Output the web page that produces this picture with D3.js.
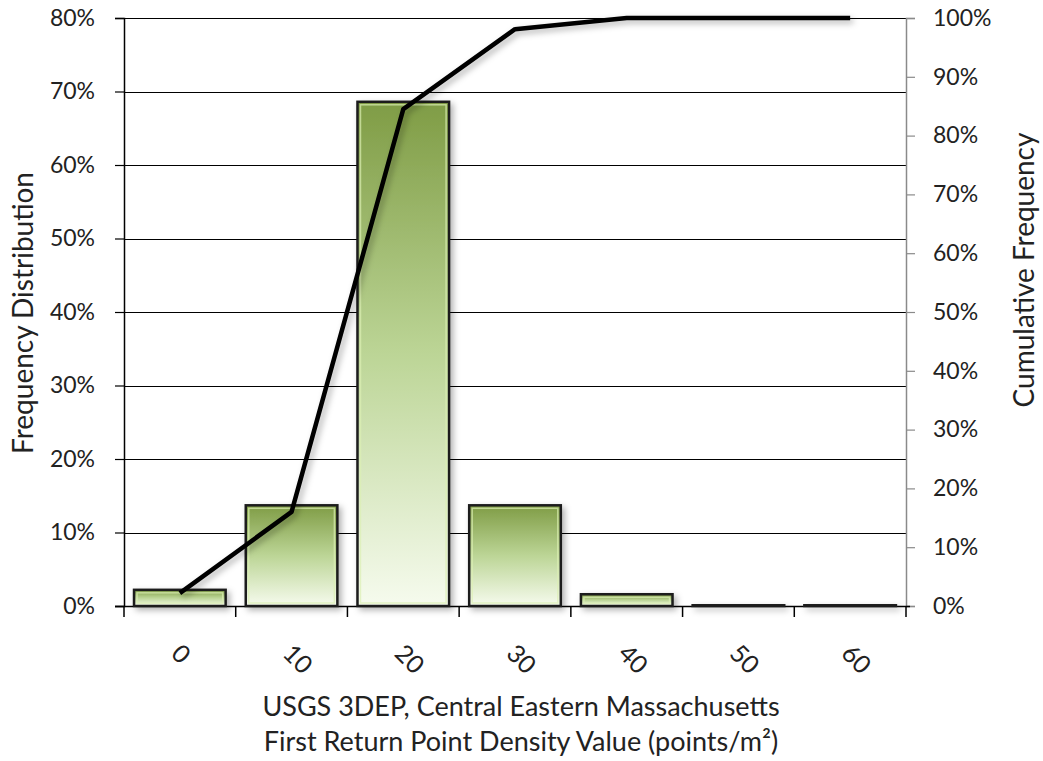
<!DOCTYPE html>
<html><head><meta charset="utf-8">
<script src="https://cdn.jsdelivr.net/npm/d3@7"></script>
<style>body{margin:0;background:#fff}svg{display:block}</style>
</head><body>
<script>
const categories = ["0","10","20","30","40","50","60"];
const frequency = [0.022, 0.137, 0.686, 0.137, 0.016, 0.001, 0.001];
const cumulative = [0.022, 0.160, 0.845, 0.981, 1.0, 1.0, 1.0];
const leftTicks = [0,0.1,0.2,0.3,0.4,0.5,0.6,0.7,0.8];
const rightTicks = [0,0.1,0.2,0.3,0.4,0.5,0.6,0.7,0.8,0.9,1.0];
const xTitle = ["USGS 3DEP, Central Eastern Massachusetts","First Return Point Density Value (points/m²)"];
const yTitleLeft = "Frequency Distribution";
const yTitleRight = "Cumulative Frequency";

const W=1043,H=761, L=124, R=906, T=18, B=606;
const font = "Lato, 'Open Sans', sans-serif";
const svg = d3.select("body").append("svg").attr("width",W).attr("height",H).style("font-family",font);
const defs = svg.append("defs");
const grad = defs.append("linearGradient").attr("id","g").attr("x1",0).attr("y1",0).attr("x2",0).attr("y2",1);
grad.append("stop").attr("offset","0%").attr("stop-color","#7f9c45");
grad.append("stop").attr("offset","50%").attr("stop-color","#bcd596");
grad.append("stop").attr("offset","100%").attr("stop-color","#f6fbee");
const f = defs.append("filter").attr("id","sh").attr("x","-20%").attr("y","-20%").attr("width","150%").attr("height","150%");
f.append("feDropShadow").attr("dx",3).attr("dy",3).attr("stdDeviation",3).attr("flood-color","#000").attr("flood-opacity",0.3);

const x = d3.scaleBand().domain(categories).range([L,R]).paddingInner(0.18).paddingOuter(0.09);
const y = d3.scaleLinear().domain([0,0.8]).range([B,T]);
const y2 = d3.scaleLinear().domain([0,1]).range([B,T]);
const pct = d3.format(".0%");

// gridlines
svg.append("g").selectAll("line").data(leftTicks.filter(d=>d>0)).join("line")
  .attr("x1",L).attr("x2",R).attr("y1",d=>Math.round(y(d))+0.5).attr("y2",d=>Math.round(y(d))+0.5)
  .attr("stroke","#000").attr("stroke-width",1.2);

// left axis
const ga = svg.append("g").attr("transform",`translate(${L},0)`)
  .call(d3.axisLeft(y).tickValues(leftTicks).tickFormat(pct).tickSize(9).tickPadding(20));
ga.select(".domain").attr("stroke","#000").attr("stroke-width",1.5);
ga.selectAll(".tick line").attr("stroke","#000").attr("stroke-width",1.2);
ga.selectAll("text").attr("font-size",23).attr("fill","#222").attr("font-family",font);

// right axis
const gr = svg.append("g").attr("transform",`translate(${R},0)`)
  .call(d3.axisRight(y2).tickValues(rightTicks).tickFormat(pct).tickSize(9).tickPadding(18));
gr.select(".domain").attr("stroke","#8a8a8a").attr("stroke-width",1.5);
gr.selectAll(".tick line").attr("stroke","#8a8a8a").attr("stroke-width",1.2);
gr.selectAll("text").attr("font-size",23).attr("fill","#222").attr("font-family",font);

// bottom axis
const step = x.step();
const bounds = d3.range(categories.length+1).map(i=> L + i*step);
svg.append("line").attr("x1",L-9).attr("x2",R+4).attr("y1",B+0.5).attr("y2",B+0.5).attr("stroke","#000").attr("stroke-width",1.5);
svg.append("g").selectAll("line").data(bounds).join("line")
  .attr("x1",d=>d).attr("x2",d=>d).attr("y1",B).attr("y2",B+11).attr("stroke","#000").attr("stroke-width",1.5);
svg.append("g").selectAll("text").data(categories).join("text")
  .attr("transform",d=>`translate(${x(d)+x.bandwidth()/2 - 3},${648}) rotate(45)`)
  .attr("text-anchor","start").attr("dominant-baseline","central")
  .attr("font-size",25).attr("fill","#222").text(d=>d);

// bars
const bars = svg.append("g").attr("filter","url(#sh)");
bars.selectAll("rect.b").data(categories).join("rect").attr("class","b")
  .attr("x",d=>x(d)).attr("width",x.bandwidth())
  .attr("y",(d,i)=>y(frequency[i])).attr("height",(d,i)=>B-y(frequency[i]))
  .attr("fill","url(#g)").attr("stroke","#1c1c1c").attr("stroke-width",2.5);
bars.selectAll("rect.h").data(categories.filter((d,i)=>frequency[i]>0.005)).join("rect").attr("class","h")
  .attr("x",d=>x(d)+3).attr("width",x.bandwidth()-6)
  .attr("y",d=>y(frequency[categories.indexOf(d)])+3).attr("height",d=>Math.max(0,B-y(frequency[categories.indexOf(d)])-6))
  .attr("fill","none").attr("stroke","rgba(220,240,180,0.7)").attr("stroke-width",1.5);

// cumulative line
const line = d3.line().x((d,i)=>x(categories[i])+x.bandwidth()/2).y(d=>y2(d));
svg.append("path").datum(cumulative).attr("d",line).attr("fill","none")
  .attr("stroke","#000").attr("stroke-width",4.5).attr("stroke-linejoin","round").attr("filter","url(#sh)");

// titles
svg.append("text").attr("transform",`translate(22,313) rotate(-90)`).attr("text-anchor","middle")
  .attr("dominant-baseline","central").attr("font-size",28).attr("fill","#222").text(yTitleLeft);
svg.append("text").attr("transform",`translate(1023,270) rotate(-90)`).attr("text-anchor","middle")
  .attr("dominant-baseline","central").attr("font-size",28).attr("fill","#222").text(yTitleRight);
svg.append("g").selectAll("text").data(xTitle).join("text")
  .attr("x",521).attr("y",(d,i)=>716+i*35).attr("text-anchor","middle")
  .attr("font-size",27).attr("fill","#222").text(d=>d);
</script>
</body></html>
